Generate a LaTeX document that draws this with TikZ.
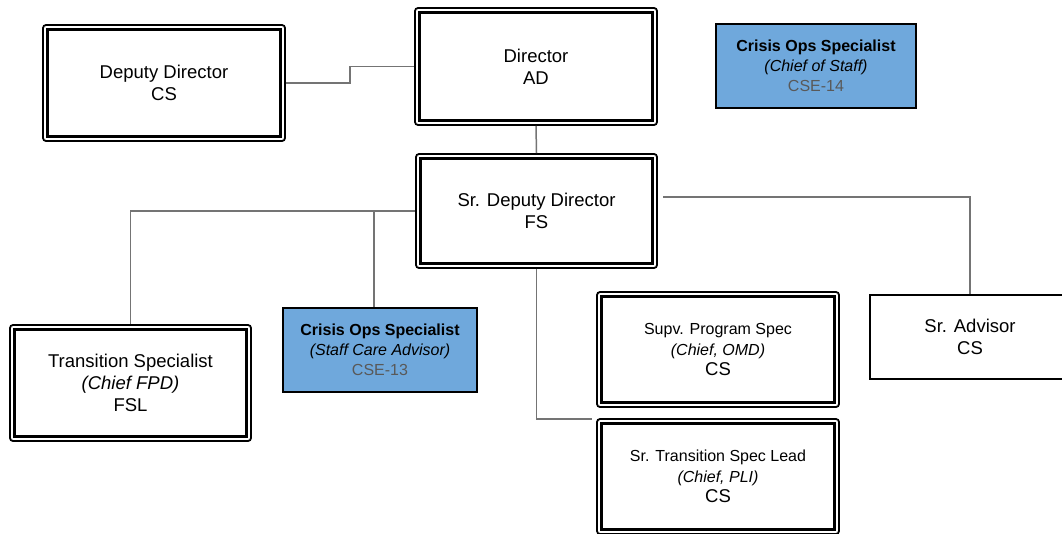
\documentclass[tikz,border=0pt]{standalone}
\usepackage{fontspec}
\setmainfont{Liberation Sans}
\definecolor{boxblue}{HTML}{6FA8DC}
\definecolor{linegray}{HTML}{747474}
\definecolor{codegray}{HTML}{595959}
\tikzset{
  dbox/.style={draw=black, line width=1.8pt, rounded corners=3pt, fill=white, inner sep=0pt, align=center, font=\fontsize{18.5}{22}\selectfont},
  bluebox/.style={draw=black, line width=1.8pt, fill=boxblue, inner sep=0pt, align=center, font=\fontsize{16}{20}\selectfont},
  plainbox/.style={draw=black, line width=1.6pt, fill=white, inner sep=0pt, align=center, font=\fontsize{18.5}{21.5}\selectfont},
  innerframe/.style={draw=black, line width=2.6pt},
  conn/.style={draw=linegray, line width=1.5pt},
}
\begin{document}
\begin{tikzpicture}[x=1pt, y=-1pt]
\useasboundingbox (0,0) rectangle (1062,533);
\clip (0,0) rectangle (1062,533);
\fill[white] (0,0) rectangle (1062,533);

% nodes
\node[dbox, minimum width=242pt, minimum height=116pt] (dd) at (164,83) {Deputy Director\\CS};
\node[dbox, minimum width=242pt, minimum height=117pt] (dir) at (536,66.5) {Director\\AD};
\node[bluebox, minimum width=200pt, minimum height=84pt] (cos) at (816,66) {\textbf{Crisis Ops Specialist}\\\textit{(Chief of Staff)}\\\textcolor{codegray}{CSE-14}};
\node[dbox, minimum width=241pt, minimum height=114pt] (sdd) at (536.5,211) {Sr. Deputy Director\\FS};
\node[dbox, minimum width=241pt, minimum height=116pt] (ts) at (130.5,383) {Transition Specialist\\\textit{(Chief FPD)}\\FSL};
\node[bluebox, minimum width=194pt, minimum height=84pt] (sca) at (380,350) {\textbf{Crisis Ops Specialist}\\\textit{(Staff Care Advisor)}\\\textcolor{codegray}{CSE-13}};
\node[dbox, minimum width=242pt, minimum height=115pt, font=\fontsize{16}{20.5}\selectfont] (sps) at (718,349.5) {Supv. Program Spec\\\textit{(Chief, OMD)}\\{\fontsize{18.5}{20.5}\selectfont CS}};
\node[dbox, minimum width=242pt, minimum height=115pt, font=\fontsize{16}{20.5}\selectfont] (stl) at (718,476.5) {Sr. Transition Spec Lead\\\textit{(Chief, PLI)}\\{\fontsize{18.5}{20.5}\selectfont CS}};
\node[plainbox, minimum width=200pt, minimum height=84pt] (sra) at (970,337) {Sr. Advisor\\CS};

% inner frames of the double-bordered boxes
\foreach \n in {dd,dir,sdd,ts,sps,stl}
  \draw[innerframe] ([xshift=5.5pt,yshift=-5.5pt]\n.north west) rectangle ([xshift=-5.5pt,yshift=5.5pt]\n.south east);

% connector helpers
\coordinate (kink) at (350,0);
\coordinate (j1) at (374,212);
\coordinate (j2) at (663,197);
\coordinate (hook) at (592,419);

% connectors
\draw[conn] (dd.east) -- (dd.east -| kink) |- (dir.west);
\draw[conn] (dir.south) -- (sdd.north);
\draw[conn] (sdd.west) -| (ts.north);
\draw[conn] (j1) -- (j1 |- sca.north);
\draw[conn] (j2) -| (sra.north);
\draw[conn] (sdd.south) |- (hook);
\end{tikzpicture}
\end{document}
